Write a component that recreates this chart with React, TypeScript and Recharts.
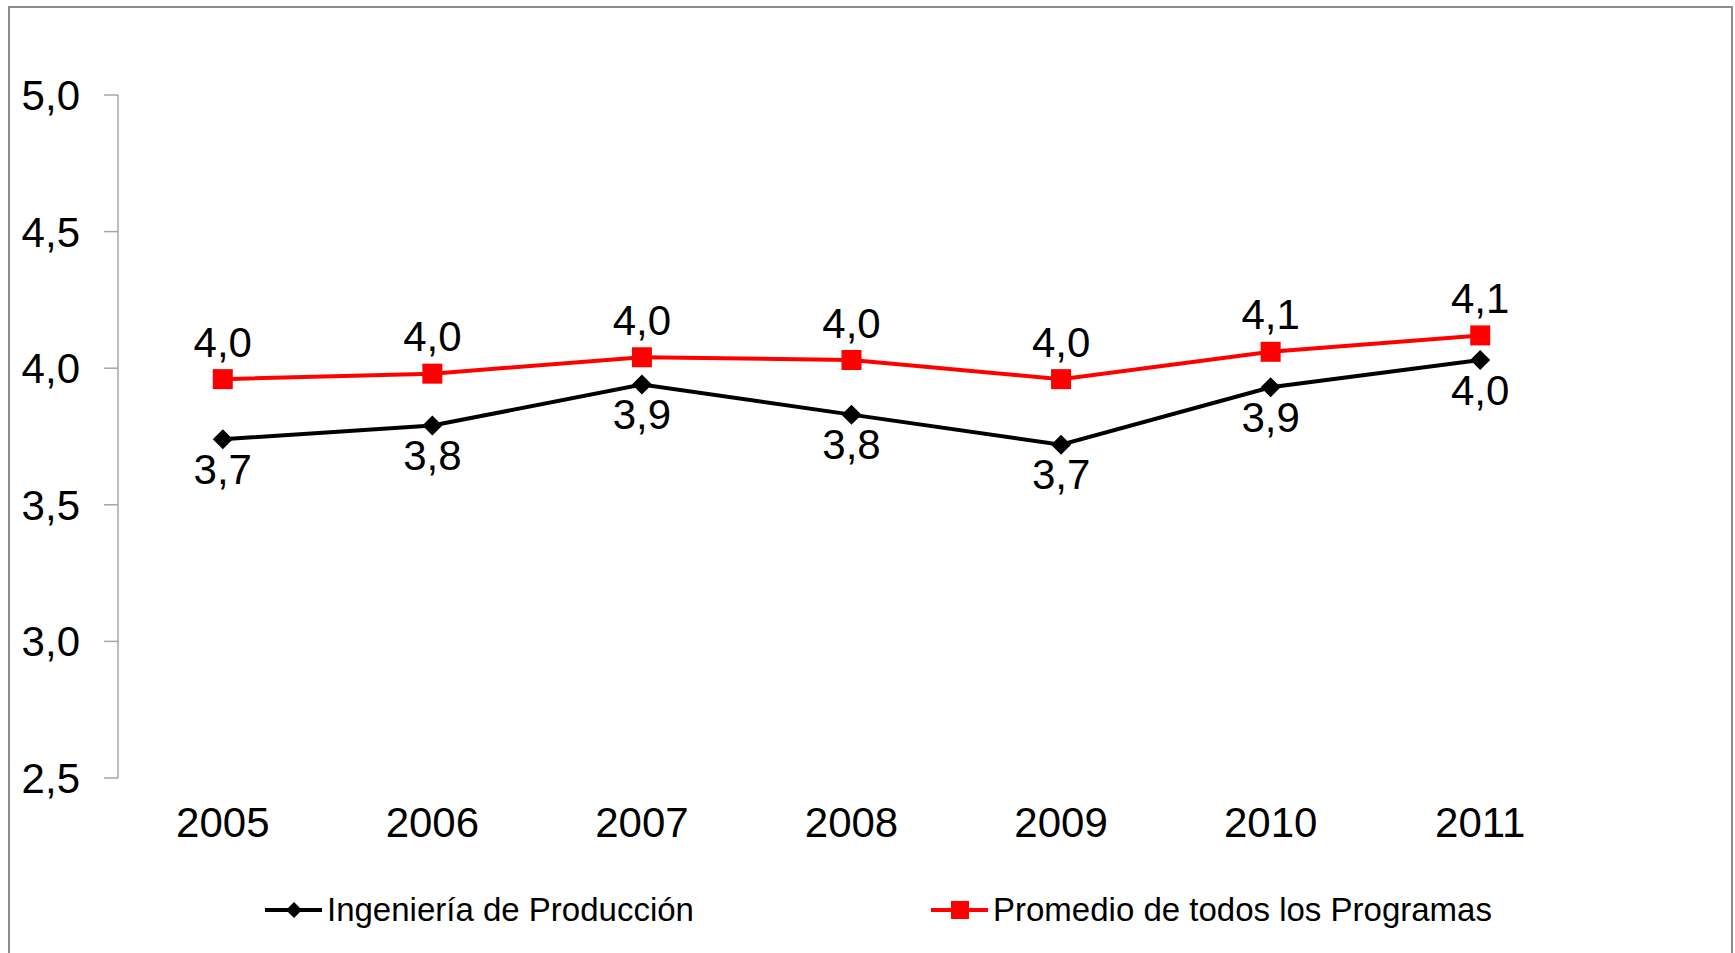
import React from "react";
import { LineChart, Line, XAxis, YAxis, Legend, LabelList } from "recharts";

const YEARS = ["2005", "2006", "2007", "2008", "2009", "2010", "2011"];
const INGENIERIA = [3.74, 3.79, 3.94, 3.83, 3.72, 3.93, 4.03];
const PROMEDIO = [3.96, 3.98, 4.04, 4.03, 3.96, 4.06, 4.12];
const Y_TICKS = [2.5, 3, 3.5, 4, 4.5, 5];

const SERIES_ING = "Ingeniería de Producción";
const SERIES_PROM = "Promedio de todos los Programas";

const FONT = '"Liberation Sans", Arial, sans-serif';
const AXIS_GRAY = "#a6a6a6";

// numeric x positions put each year in the middle of its band, so the tick
// marks can sit on the band edges like the spreadsheet original
const data = YEARS.map((year, i) => ({
  pos: i + 0.5,
  year,
  ing: INGENIERIA[i],
  prom: PROMEDIO[i],
}));
const bandTicks = YEARS.map((_, i) => i + 0.5);
const edgeTicks = [...YEARS.map((_, i) => i), YEARS.length];

const fmt = (v: number) => v.toFixed(1).replace(".", ",");

const Diamond = ({ cx, cy, size = 10, fill = "#000" }: any) => (
  <path d={`M${cx},${cy - size} L${cx + size},${cy} L${cx},${cy + size} L${cx - size},${cy} Z`} fill={fill} />
);

const Square = ({ cx, cy, size = 10, fill = "#ff0000" }: any) => (
  <rect x={cx - size} y={cy - size} width={size * 2} height={size * 2} fill={fill} />
);

const makeLabel = (dy: number) => (props: any) => {
  const { x, y, value } = props;
  return (
    <text
      x={x}
      y={y + dy}
      textAnchor="middle"
      dominantBaseline="central"
      fontFamily={FONT}
      fontSize={42}
      fill="#000"
    >
      {fmt(Number(value))}
    </text>
  );
};

const LegendItem = ({ left, name, marker }: { left: number; name: string; marker: React.ReactNode }) => (
  <div style={{ position: "absolute", left, top: 0, display: "flex", alignItems: "center" }}>
    <svg width={60} height={30}>
      {marker}
    </svg>
    <span style={{ fontFamily: FONT, fontSize: 33, color: "#000", marginLeft: 3, whiteSpace: "nowrap" }}>{name}</span>
  </div>
);

const renderLegend = () => (
  <div style={{ position: "relative", height: 40 }}>
    <LegendItem
      left={264}
      name={SERIES_ING}
      marker={
        <>
          <line x1={1} y1={15} x2={58} y2={15} stroke="#000" strokeWidth={4} />
          <Diamond cx={30} cy={15} size={8} />
        </>
      }
    />
    <LegendItem
      left={930}
      name={SERIES_PROM}
      marker={
        <>
          <line x1={1} y1={15} x2={58} y2={15} stroke="#ff0000" strokeWidth={4} />
          <Square cx={30} cy={15} size={9} />
        </>
      }
    />
  </div>
);

export default function App() {
  return (
    <div style={{ position: "absolute", left: 0, top: 0, width: 1735, height: 953, background: "#fff", overflow: "hidden" }}>
      <div
        style={{
          position: "absolute",
          left: 8,
          top: 6,
          width: 1725,
          height: 960,
          border: "2px solid #8c8c8c",
          boxSizing: "border-box",
        }}
      />
      <div style={{ position: "absolute", left: 0, top: 0 }}>
        <LineChart width={1735} height={953} data={data} margin={{ top: 95, right: 150, bottom: 115, left: 0 }}>
          <XAxis
            xAxisId="edges"
            dataKey="pos"
            type="number"
            domain={[0, YEARS.length]}
            ticks={edgeTicks}
            interval={0}
            height={0}
            tickSize={12}
            tickFormatter={() => ""}
            stroke={AXIS_GRAY}
            strokeWidth={1.5}
          />
          <XAxis
            xAxisId="years"
            dataKey="pos"
            type="number"
            domain={[0, YEARS.length]}
            ticks={bandTicks}
            interval={0}
            height={60}
            axisLine={false}
            tickLine={false}
            tickSize={0}
            tickMargin={29}
            tickFormatter={(v: number) => YEARS[Math.floor(v)]}
            tick={{ fontFamily: FONT, fontSize: 42, fill: "#000" }}
          />
          <YAxis
            type="number"
            domain={[2.5, 5]}
            ticks={Y_TICKS}
            interval={0}
            width={118}
            tickSize={14}
            tickMargin={24}
            tickFormatter={fmt}
            stroke={AXIS_GRAY}
            strokeWidth={1.5}
            tick={{ fontFamily: FONT, fontSize: 42, fill: "#000" }}
          />
          <Legend
            layout="horizontal"
            verticalAlign="middle"
            align="center"
            content={renderLegend}
            wrapperStyle={{ top: 891, left: 0, width: 1735 }}
          />
          <Line
            xAxisId="years"
            dataKey="ing"
            name={SERIES_ING}
            stroke="#000"
            strokeWidth={4}
            dot={(p: any) => <Diamond key={`ing-${p.index}`} cx={p.cx} cy={p.cy} size={10} />}
            activeDot={false}
            isAnimationActive={false}
          >
            <LabelList dataKey="ing" content={makeLabel(30)} />
          </Line>
          <Line
            xAxisId="years"
            dataKey="prom"
            name={SERIES_PROM}
            stroke="#ff0000"
            strokeWidth={4}
            dot={(p: any) => <Square key={`prom-${p.index}`} cx={p.cx} cy={p.cy} size={10} />}
            activeDot={false}
            isAnimationActive={false}
          >
            <LabelList dataKey="prom" content={makeLabel(-37)} />
          </Line>
        </LineChart>
      </div>
    </div>
  );
}
